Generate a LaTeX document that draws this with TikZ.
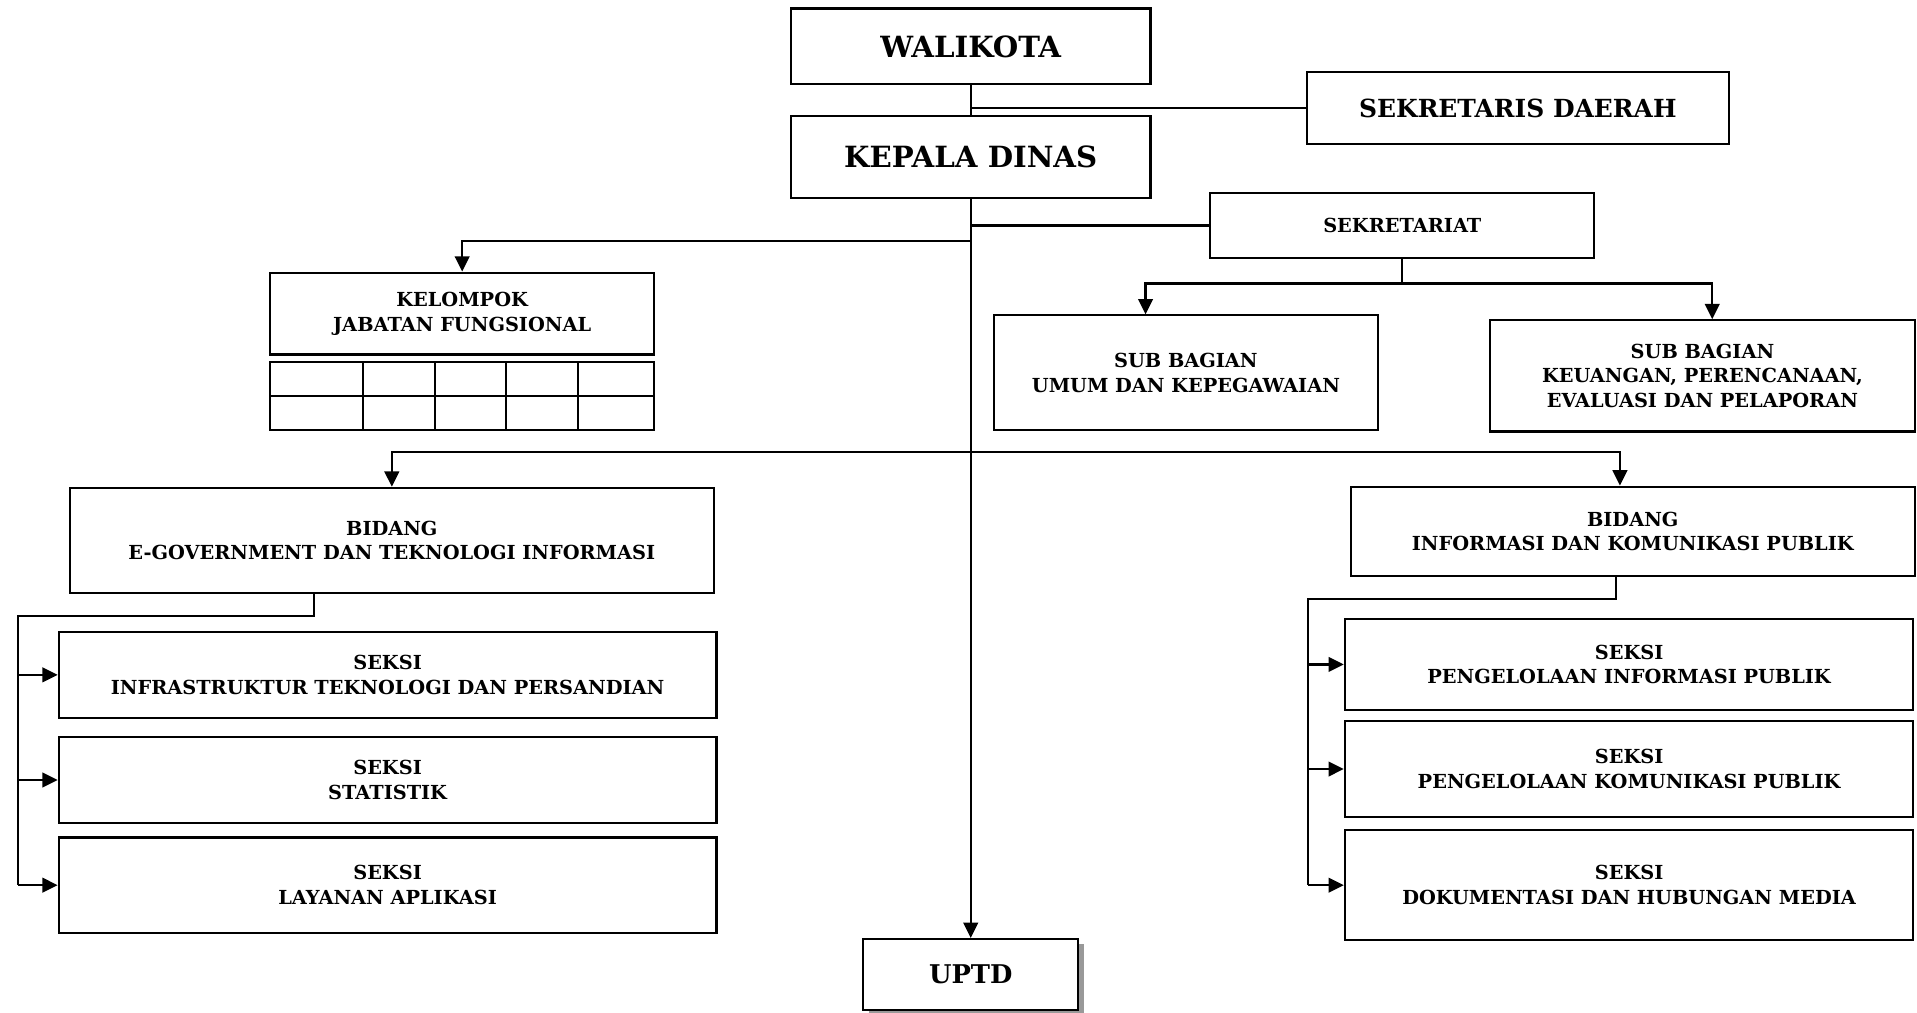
\documentclass[tikz,border=0pt]{standalone}
\usepackage{fontspec}
\setmainfont{DejaVu Serif}
\usetikzlibrary{arrows.meta,positioning,calc,shadows}
\tikzset{
  unit/.style={draw=black,fill=white,line width=1pt,align=center,inner sep=2pt,font=\bfseries\fontsize{9}{11.4}\selectfont},
  head/.style={unit,font=\bfseries\fontsize{13.6}{16}\selectfont},
  sub/.style={unit,font=\bfseries\fontsize{11.6}{14}\selectfont},
  link/.style={draw=black,line width=1pt},
  arr/.style={-{Triangle[length=2.5mm,width=2.4mm]},draw=black,line width=1pt}
}

\begin{document}
\begin{tikzpicture}[x=1cm,y=1cm]
\useasboundingbox (0,0) rectangle (31.36,16.56);
% pimpinan
\node[head,minimum width=5.88cm,minimum height=1.24cm] (walikota) at (15.88,15.80) {WALIKOTA};
\node[sub,minimum width=6.90cm,minimum height=1.18cm] (sekda) at (24.83,14.79) {SEKRETARIS DAERAH};
\node[head,minimum width=5.88cm,minimum height=1.34cm] (kadis) at (15.88,13.99) {KEPALA DINAS};
\draw[link] (walikota) -- (kadis); \draw[link] (sekda.west) -- (sekda.west -| walikota.south);

% sekretariat
\node[unit,minimum width=6.28cm,minimum height=1.06cm] (sekret) at (22.94,12.87) {SEKRETARIAT};
\draw[link] (sekret.west) -- (sekret.west -| kadis.south);
\node[unit,minimum width=6.28cm,minimum height=1.88cm] (subumum) at (19.40,10.46) {SUB BAGIAN\\UMUM DAN KEPEGAWAIAN};
\node[unit,minimum width=6.94cm,minimum height=1.82cm] (subkeu) at (27.85,10.41) {SUB BAGIAN\\KEUANGAN, PERENCANAAN,\\EVALUASI DAN PELAPORAN};
\coordinate (sekbus) at ($(sekret.south)+(0,-0.40)$);
\draw[link] (sekret.south) -- (sekbus);
\draw[arr] (sekbus) -| ([xshift=-0.66cm]subumum.north); \draw[arr] (sekbus) -| ([xshift=0.16cm]subkeu.north);

% jabatan fungsional
\coordinate (jfbus) at (15.88,12.62);
\node[unit,minimum width=6.28cm,minimum height=1.34cm] (kjf) at (7.56,11.43) {KELOMPOK\\JABATAN FUNGSIONAL};
\draw[arr] (jfbus) -| (kjf.north);
\node[unit,minimum width=6.28cm,minimum height=1.12cm] (kjftab) at (7.56,10.08) {};
\draw[link] (kjftab.west) -- (kjftab.east);
\foreach \x in {5.94,7.12,8.28,9.46} \draw[link] (\x,10.64) -- (\x,9.52);

% bidang
\coordinate (bidbus) at (15.88,9.16);
\node[unit,minimum width=10.54cm,minimum height=1.72cm] (bidegov) at (6.41,7.72) {BIDANG\\E-GOVERNMENT DAN TEKNOLOGI INFORMASI};
\node[unit,minimum width=9.22cm,minimum height=1.46cm] (bidikp) at (26.71,7.87) {BIDANG\\INFORMASI DAN KOMUNIKASI PUBLIK};
\draw[arr] (bidbus) -| (bidegov.north); \draw[arr] (bidbus) -| ([xshift=-0.21cm]bidikp.north);

% seksi e-government
\node[unit,minimum width=10.76cm,minimum height=1.40cm] (seksiinfra) at (6.34,5.52) {SEKSI\\INFRASTRUKTUR TEKNOLOGI DAN PERSANDIAN};
\node[unit,minimum width=10.76cm,minimum height=1.40cm] (seksistat) at (6.34,3.80) {SEKSI\\STATISTIK};
\node[unit,minimum width=10.76cm,minimum height=1.56cm] (seksiapl) at (6.34,2.08) {SEKSI\\LAYANAN APLIKASI};
\coordinate (egovspine) at (0.30,6.48);
\draw[link] ([xshift=-1.27cm]bidegov.south) |- (egovspine) -- (egovspine |- seksiapl.west);
\foreach \s in {seksiinfra,seksistat,seksiapl} \draw[arr] (egovspine |- \s.west) -- (\s.west);

% seksi informasi dan komunikasi publik
\node[unit,minimum width=9.30cm,minimum height=1.50cm] (seksipip) at (26.65,5.69) {SEKSI\\PENGELOLAAN INFORMASI PUBLIK};
\node[unit,minimum width=9.30cm,minimum height=1.56cm] (seksipkp) at (26.65,3.98) {SEKSI\\PENGELOLAAN KOMUNIKASI PUBLIK};
\node[unit,minimum width=9.30cm,minimum height=1.80cm] (seksidok) at (26.65,2.08) {SEKSI\\DOKUMENTASI DAN HUBUNGAN MEDIA};
\coordinate (ikpspine) at (21.40,6.76);
\draw[link] ([xshift=-0.27cm]bidikp.south) |- (ikpspine) -- (ikpspine |- seksidok.west);
\foreach \s in {seksipip,seksipkp,seksidok} \draw[arr] (ikpspine |- \s.west) -- (\s.west);

% uptd
\node[head,font=\bfseries\fontsize{12}{14}\selectfont,minimum width=3.52cm,minimum height=1.16cm,
  drop shadow={fill=gray!80,opacity=1,shadow xshift=0.09cm,shadow yshift=-0.09cm}] (uptd) at (15.88,0.62) {UPTD};
\draw[arr] (kadis) -- (uptd);
\end{tikzpicture}
\end{document}
